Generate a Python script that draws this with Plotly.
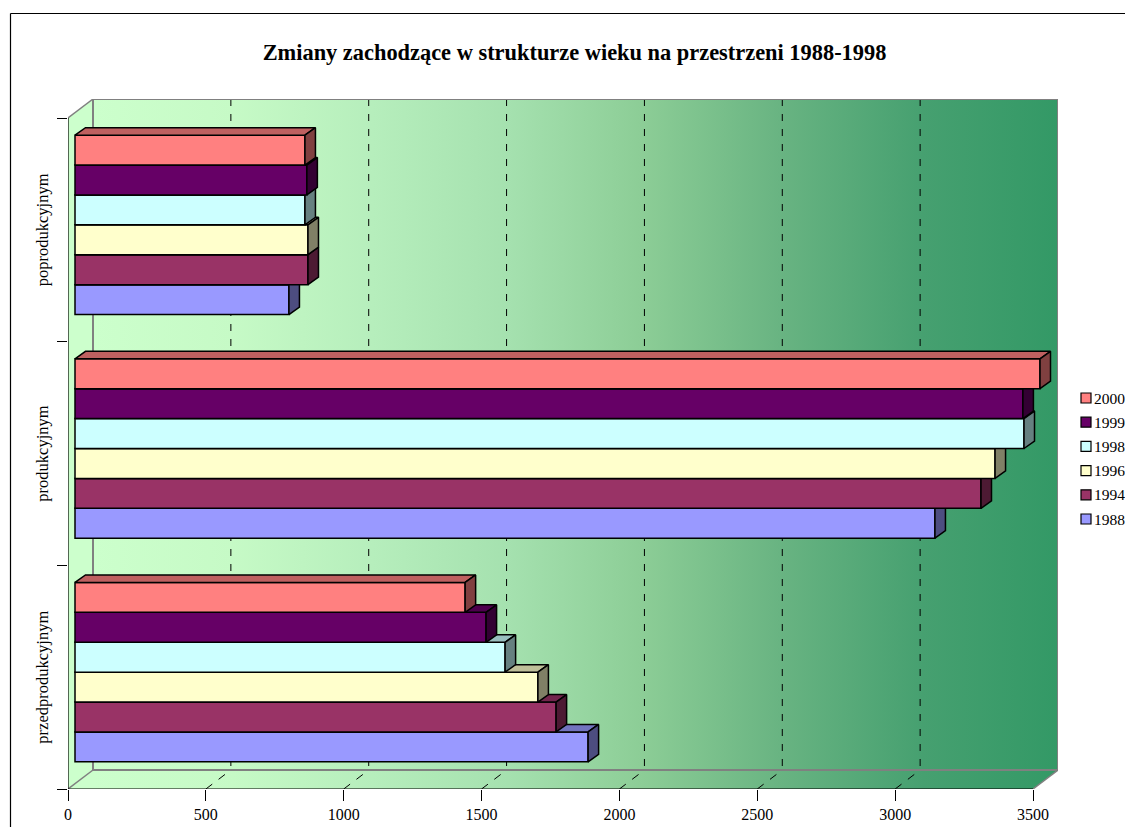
import plotly.graph_objects as go

TITLE = "Zmiany zachodzące w strukturze wieku na przestrzeni 1988-1998"
categories = ["przedprodukcyjnym", "produkcyjnym", "poprodukcyjnym"]
years = ["1988", "1994", "1996", "1998", "1999", "2000"]

v1988 = [1861, 3119, 776]
v1994 = [1745, 3286, 845]
v1996 = [1679, 3337, 845]
v1998 = [1560, 3442, 834]
v1999 = [1491, 3438, 841]
v2000 = [1415, 3500, 834]
series = [v1988, v1994, v1996, v1998, v1999, v2000]

front = ["#9999FF", "#993366", "#FFFFCC", "#CCFFFF", "#660066", "#FF8080"]
top = ["#7373BF", "#73264D", "#BFBF99", "#99BFBF", "#4D004D", "#BF6060"]
side = ["#4D4D80", "#4D1A33", "#808066", "#668080", "#330033", "#804040"]

FONT = "Liberation Serif"
W, H = 1125, 827
L, R, T, B = 68, 1058, 99, 789          # plot box in page pixels
PX_X = 965 / 3500                       # px per value unit
PX_Y = 671 / 3                          # px per category
XMAX = (R - L) / PX_X
YMAX = (B - T) / PX_Y
WALL_X, WALL_Y = 25 / PX_X, 19 / PX_Y   # depth of the chart box
FRONT_X, FRONT_Y = 7 / PX_X, 5 / PX_Y   # bar front plane
DEPTH_X, DEPTH_Y = 10.5 / PX_X, 7.5 / PX_Y
BAR_H = 29.9 / PX_Y
GRAY = "#808080"
ticks = [0, 500, 1000, 1500, 2000, 2500, 3000, 3500]
gradient = [[0, "rgb(204,255,204)"], [0.145, "rgb(198,250,198)"], [0.29, "rgb(182,238,188)"],
            [0.43, "rgb(165,225,175)"], [0.57, "rgb(140,205,150)"], [0.71, "rgb(105,180,130)"],
            [0.86, "rgb(70,160,112)"], [1, "rgb(51,153,102)"]]

def px(x): return (x - L) / (R - L)
def py(y): return (B - y) / (B - T)

fig = go.Figure()

def line(xs, ys, color=GRAY, width=1, dash=None):
    fig.add_trace(go.Scatter(x=xs, y=ys, mode="lines", cliponaxis=False, hoverinfo="skip",
                             showlegend=False, line=dict(color=color, width=width, dash=dash)))

# left wall
fig.add_trace(go.Scatter(x=[0, WALL_X, WALL_X, 0, 0], y=[0, WALL_Y, 3 + WALL_Y, 3, 0], mode="lines",
                         fill="toself", fillcolor="#CCFFCC", line=dict(width=0), showlegend=False,
                         hoverinfo="skip"))
# back wall + floor with gradient
fig.add_trace(go.Scatter(x=[0, 3500, 3500 + WALL_X, 3500 + WALL_X, WALL_X, WALL_X, 0],
                         y=[0, 0, WALL_Y, 3 + WALL_Y, 3 + WALL_Y, WALL_Y, 0], mode="lines",
                         fill="toself", line=dict(width=0), showlegend=False, hoverinfo="skip",
                         fillgradient=dict(type="horizontal", start=WALL_X, stop=3500 + WALL_X,
                                           colorscale=gradient)))
# gridlines
for t in ticks[1:-1]:
    line([t + WALL_X, t + WALL_X], [3 + WALL_Y, WALL_Y], "black", 1, "7px,8px")
    line([t, t + WALL_X], [0, WALL_Y], "black", 1, "8px,8px")
# box edges
line([0, WALL_X], [3, 3 + WALL_Y], GRAY, 1.5)
line([WALL_X, 3500 + WALL_X, 3500 + WALL_X], [3 + WALL_Y, 3 + WALL_Y, WALL_Y], GRAY, 2)
line([WALL_X, WALL_X, 3500 + WALL_X], [3 + WALL_Y, WALL_Y, WALL_Y], GRAY, 2)
line([0, WALL_X], [0, WALL_Y], GRAY, 1.5)
line([3500, 3500 + WALL_X], [0, WALL_Y], GRAY, 1.5)
# axis lines
line([0, 3500], [0, 0], "black", 1.2)
line([0, 0], [0, 3], "black", 1.2)

axes = {}
for j, vals in enumerate(series):
    n = j + 2
    xa, ya = f"x{n}", f"y{n}"
    centers = [i + 0.5 + FRONT_Y + (j - 2.5) * BAR_H for i in range(3)]
    tx, ty, sx, sy = [], [], [], []
    for c, v in zip(centers, vals):
        x1 = FRONT_X + v
        y1 = c + BAR_H / 2
        y0 = c - BAR_H / 2
        tx += [FRONT_X, FRONT_X + DEPTH_X, x1 + DEPTH_X, x1, FRONT_X, None]
        ty += [y1, y1 + DEPTH_Y, y1 + DEPTH_Y, y1, y1, None]
        sx += [x1, x1 + DEPTH_X, x1 + DEPTH_X, x1, x1, None]
        sy += [y1, y1 + DEPTH_Y, y0 + DEPTH_Y, y0, y1, None]
    fig.add_trace(go.Bar(x=vals, y=centers, base=FRONT_X, orientation="h", width=BAR_H, name=years[j],
                         marker=dict(color=front[j], line=dict(color="black", width=1.5)),
                         xaxis=xa, yaxis=ya, showlegend=False))
    for xs, ys, col in ((tx, ty, top[j]), (sx, sy, side[j])):
        fig.add_trace(go.Scatter(x=xs, y=ys, mode="lines", fill="toself", fillcolor=col,
                                 line=dict(color="black", width=1.5), xaxis=xa, yaxis=ya,
                                 showlegend=False, hoverinfo="skip"))
    axes[f"xaxis{n}"] = dict(overlaying="x", range=[0, XMAX], visible=False, anchor=ya)
    axes[f"yaxis{n}"] = dict(overlaying="y", range=[0, YMAX], visible=False, anchor=xa)

shapes = [
    dict(type="line", xref="paper", yref="paper", x0=px(10.5), x1=px(W + 5), y0=py(13.5), y1=py(13.5),
         line=dict(color="black", width=1.2)),
    dict(type="line", xref="paper", yref="paper", x0=px(10.5), x1=px(10.5), y0=py(13.5), y1=py(H + 5),
         line=dict(color="black", width=1.2)),
]
annotations = []
legend_y = [398, 422.2, 446.4, 470.6, 494.8, 519]
for k, yy in enumerate(legend_y):
    j = 5 - k
    shapes.append(dict(type="rect", xref="paper", yref="paper", x0=px(1081), x1=px(1091),
                       y0=py(yy - 5), y1=py(yy + 5), fillcolor=front[j],
                       line=dict(color="black", width=1.2)))
    annotations.append(dict(text=years[j], xref="paper", yref="paper", x=px(1093), y=py(yy), xanchor="left",
                            yanchor="middle", showarrow=False, borderpad=0,
                            font=dict(family=FONT, size=15.5, color="black")))

LABEL_SHIFT = 2.5 / PX_Y
fig.update_layout(
    width=W, height=H, autosize=False, showlegend=False, barmode="overlay",
    paper_bgcolor="white", plot_bgcolor="white",
    margin=dict(l=L, r=W - R, t=T, b=H - B, pad=0, autoexpand=False),
    font=dict(family=FONT, size=16, color="black"),
    title=dict(text=f"<b>{TITLE}</b>", x=574.5 / W, xanchor="center", y=1 - 52 / H, yanchor="middle",
               font=dict(family=FONT, size=22.4, color="black")),
    xaxis=dict(range=[0, XMAX], tickmode="array", tickvals=ticks, ticktext=[str(t) for t in ticks],
               ticks="outside", ticklen=11, tickcolor="black", tickwidth=1, showgrid=False, zeroline=False,
               showline=False, tickfont=dict(family=FONT, size=16)),
    yaxis=dict(range=[0, YMAX], tickmode="array", tickvals=[i + 0.5 - LABEL_SHIFT for i in range(3)],
               ticktext=categories, tickangle=-90, ticks="outside", ticklen=12,
               tickcolor="rgba(0,0,0,0)", showgrid=False,
               zeroline=False, showline=False, tickfont=dict(family=FONT, size=16.5),
               minor=dict(tickmode="array", tickvals=[0, 1, 2, 3], ticks="outside", ticklen=10,
                          tickcolor="black", tickwidth=1, showgrid=False)),
    shapes=shapes, annotations=annotations, **axes,
)
fig.write_html("out.html", config=dict(displayModeBar=False),
               post_script="document.body.style.margin='0';document.body.style.overflow='hidden';")
